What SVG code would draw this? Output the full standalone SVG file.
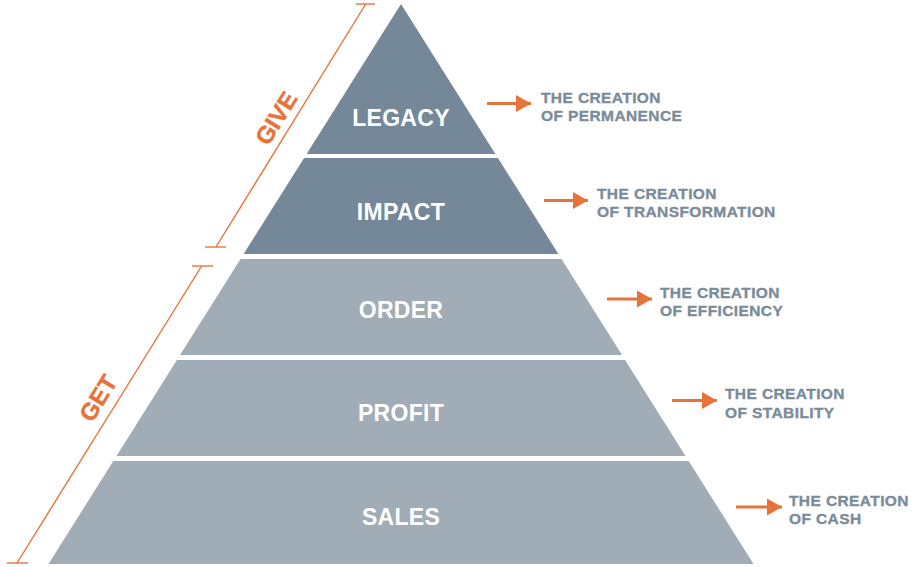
<svg xmlns="http://www.w3.org/2000/svg" width="913" height="567" viewBox="0 0 913 567">
  <style>
    .dark { fill: #74889a; }
    .light { fill: #a1adb6; }
    .lbl { font-family: "Liberation Sans", Arial, sans-serif; font-weight: bold; font-size: 23px; fill: #ffffff; text-anchor: middle; letter-spacing: 0.3px; }
    .desc { font-family: "Liberation Sans", Arial, sans-serif; font-weight: bold; font-size: 15.5px; fill: #7a8b9a; stroke: #7a8b9a; stroke-width: 0.35; letter-spacing: 0.4px; }
    .side { font-family: "Liberation Sans", Arial, sans-serif; font-weight: bold; font-size: 24px; fill: #e8733a; stroke: #e8733a; stroke-width: 0.4; text-anchor: middle; dominant-baseline: central; }
    .brk { stroke: #e8733a; stroke-width: 1.4; fill: none; }
    .arr { stroke: #e8733a; stroke-width: 3; fill: none; }
  </style>
  <defs>
    <marker id="ah" markerUnits="userSpaceOnUse" markerWidth="17" markerHeight="18" refX="15" refY="9" orient="auto">
      <polygon points="0,0.5 15,9 0,17.5" fill="#e8733a"/>
    </marker>
  </defs>
  <rect width="913" height="567" fill="#ffffff"/>

  <g id="legacy">
    <polygon class="dark" points="401,4 495.4,154 306.6,154"/>
    <text class="lbl" x="401" y="126">LEGACY</text>
  </g>
  <g id="impact">
    <polygon class="dark" points="304.1,158 497.9,158 558.4,254 243.6,254"/>
    <text class="lbl" x="401" y="220">IMPACT</text>
  </g>
  <g id="order">
    <polygon class="light" points="240.5,259 561.5,259 622,355 180,355"/>
    <text class="lbl" x="401" y="318">ORDER</text>
  </g>
  <g id="profit">
    <polygon class="light" points="176.9,360 625.1,360 685.5,456 116.5,456"/>
    <text class="lbl" x="401" y="421">PROFIT</text>
  </g>
  <g id="sales">
    <polygon class="light" points="113.3,461 688.7,461 753.5,564 48.5,564"/>
    <text class="lbl" x="401" y="525">SALES</text>
  </g>

  <g id="give">
    <line class="brk" x1="365.7" y1="4" x2="216" y2="247"/>
    <line class="brk" x1="356" y1="4" x2="375" y2="4"/>
    <line class="brk" x1="205" y1="247" x2="226" y2="247"/>
    <text class="side" transform="translate(276,118) rotate(-58.3)">GIVE</text>
  </g>
  <g id="get">
    <line class="brk" x1="201.7" y1="266" x2="17" y2="563"/>
    <line class="brk" x1="192" y1="266" x2="213" y2="266"/>
    <line class="brk" x1="7" y1="563" x2="28" y2="563"/>
    <text class="side" transform="translate(98,398) rotate(-58.3)">GET</text>
  </g>

  <g id="desc-legacy">
    <text class="desc" x="541" y="103">THE CREATION</text>
    <text class="desc" x="541" y="121">OF PERMANENCE</text>
  </g>
  <g id="desc-impact">
    <text class="desc" x="597" y="199">THE CREATION</text>
    <text class="desc" x="597" y="217">OF TRANSFORMATION</text>
  </g>
  <g id="desc-order">
    <text class="desc" x="660" y="298">THE CREATION</text>
    <text class="desc" x="660" y="316">OF EFFICIENCY</text>
  </g>
  <g id="desc-profit">
    <text class="desc" x="725" y="399">THE CREATION</text>
    <text class="desc" x="725" y="418">OF STABILITY</text>
  </g>
  <g id="desc-sales">
    <text class="desc" x="789" y="506">THE CREATION</text>
    <text class="desc" x="789" y="524">OF CASH</text>
  </g>

  <g id="connectors">
    <line class="arr" x1="487" y1="103.5" x2="531" y2="103.5" marker-end="url(#ah)"/>
    <line class="arr" x1="544" y1="200.5" x2="588" y2="200.5" marker-end="url(#ah)"/>
    <line class="arr" x1="607" y1="299" x2="652" y2="299" marker-end="url(#ah)"/>
    <line class="arr" x1="672" y1="400.5" x2="717" y2="400.5" marker-end="url(#ah)"/>
    <line class="arr" x1="736" y1="507" x2="782" y2="507" marker-end="url(#ah)"/>
  </g>
</svg>
